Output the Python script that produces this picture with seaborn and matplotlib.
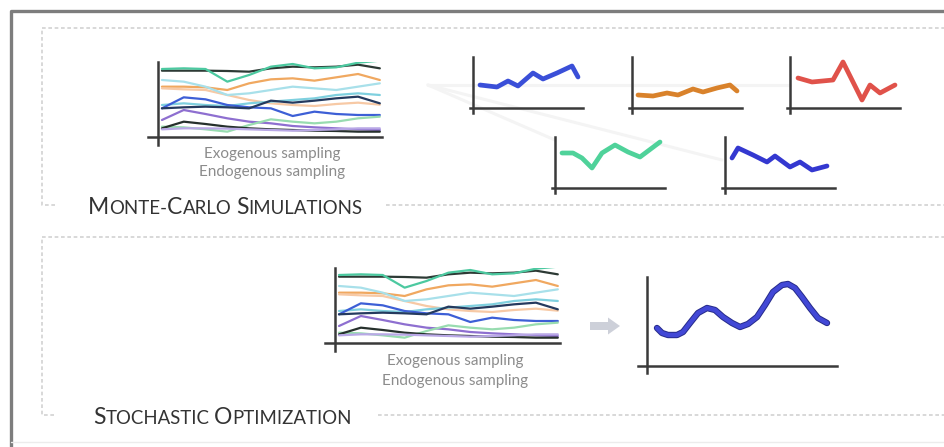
import numpy as np
import pandas as pd
import matplotlib
matplotlib.use("Agg")
import matplotlib.pyplot as plt
import seaborn as sns
from matplotlib import patheffects
from matplotlib.patches import FancyArrow

sns.set_theme(style="white")
plt.rcParams['font.family'] = ['Lato', 'DejaVu Sans']

W, H = 945, 447

# simulações (11 passos) - mesmas curvas nos dois painéis de amostragem
passos = list(range(11))
series_mc = {
    'preta_alta':  [198, 198, 198, 197, 195, 205, 210, 208, 210, 216, 205],
    'verde_agua':  [203, 205, 203, 165, 185, 210, 218, 205, 208, 222, 228],
    'laranja':     [150, 150, 148, 140, 160, 172, 175, 168, 178, 188, 170],
    'pessego':     [145, 142, 140, 125, 110, 100, 95, 92, 98, 102, 96],
    'ciano_claro': [170, 165, 150, 125, 130, 140, 150, 145, 140, 150, 160],
    'ciano_medio': [95, 100, 95, 92, 100, 105, 110, 115, 125, 130, 125],
    'azul':        [85, 118, 112, 95, 88, 85, 62, 75, 68, 65, 65],
    'marinho':     [85, 88, 90, 88, 85, 108, 102, 108, 115, 120, 100],
    'roxo':        [50, 80, 68, 55, 45, 40, 32, 28, 25, 22, 20],
    'verde_claro': [30, 28, 22, 15, 35, 52, 45, 40, 45, 55, 60],
    'preta_baixa': [25, 45, 38, 30, 25, 22, 20, 18, 17, 15, 15],
    'lavanda':     [22, 25, 25, 24, 22, 20, 18, 20, 22, 25, 25],
}
cores_mc = {
    'preta_alta': '#2d3a35', 'verde_agua': '#4cc9a0', 'laranja': '#f0a860',
    'pessego': '#f7c9a5', 'ciano_claro': '#a8e0ea', 'ciano_medio': '#7fd0df',
    'azul': '#3d5fd6', 'marinho': '#253a5e', 'roxo': '#8e6fd0',
    'verde_claro': '#98dcb0', 'preta_baixa': '#26302c', 'lavanda': '#b9a8e6',
}

# trajetórias individuais (x, y)
traj1_x = [7, 24, 35, 45, 60, 70, 84, 99, 105]
traj1_y = [23, 21, 27, 22, 35, 29, 35, 42, 31]
traj2_x = [6, 21, 35, 46, 61, 71, 85, 98, 105]
traj2_y = [13, 12, 15, 13, 19, 16, 20, 23, 17]
traj3_x = [8, 22, 43, 53, 72, 80, 90, 105]
traj3_y = [30, 26, 28, 46, 8, 23, 15, 23]
traj4_x = [7, 18, 27, 37, 47, 60, 73, 85, 105]
traj4_y = [35, 35, 30, 20, 35, 43, 36, 31, 46]
traj5_x = [7, 13, 28, 42, 50, 65, 75, 87, 102]
traj5_y = [30, 40, 33, 26, 32, 21, 26, 18, 22]

# função objetivo (otimização estocástica)
obj_x = [10, 15, 21, 30, 36, 43, 51, 60, 68, 76, 85, 93, 101, 110, 118, 126,
         135, 141, 148, 155, 163, 171, 180]
obj_y = [38, 33, 31, 31, 34, 43, 53, 58, 56, 49, 43, 39, 42, 49, 61, 74,
         81, 82, 78, 69, 58, 48, 43]

textos_amostragem = ['Exogenous sampling', 'Endogenous sampling']
titulos = ['Monte-Carlo Simulations', 'Stochastic Optimization']

COR_EIXO = '#3a3a3a'
COR_TRACO = '#d2d2d2'


def painel(fig, x0, y0, x1, y1):
    ax = fig.add_axes([x0 / W, 1 - y1 / H, (x1 - x0) / W, (y1 - y0) / H])
    ax.patch.set_alpha(0)
    for lado in ['top', 'right']:
        ax.spines[lado].set_visible(False)
    for lado in ['left', 'bottom']:
        ax.spines[lado].set_color(COR_EIXO)
        ax.spines[lado].set_linewidth(1.8)
    return ax


def limpar(ax, xlim, ylim):
    ax.set_xlim(*xlim)
    ax.set_ylim(*ylim)
    ax.spines['left'].set_position(('data', 0))
    ax.spines['bottom'].set_position(('data', 0))
    ax.set_xticks([])
    ax.set_yticks([])
    ax.set_xlabel('')
    ax.set_ylabel('')


def painel_mc(fig, x0, y0, x1, y1):
    ax = painel(fig, x0, y0, x1, y1)
    df = pd.DataFrame([
        {'passo': p, 'valor': v, 'serie': nome}
        for nome, vals in series_mc.items() for p, v in zip(passos, vals)
    ])
    sns.lineplot(data=df, x='passo', y='valor', hue='serie', palette=cores_mc,
                 legend=False, linewidth=1.6, ax=ax)
    ax.set_xlim(-0.64, 10.1)
    ax.set_ylim(-25, 224)
    ax.spines['left'].set_position(('data', -0.18))
    ax.spines['bottom'].set_position(('data', -1))
    ax.set_xticks([]); ax.set_yticks([])
    ax.set_xlabel(''); ax.set_ylabel('')
    return ax


def painel_traj(fig, x0, y0, xs, ys, cor):
    ax = painel(fig, x0, y0, x0 + 113, y0 + 56)
    sns.lineplot(x=xs, y=ys, color=cor, linewidth=3.4, sort=False, ax=ax)
    limpar(ax, (-3, 110), (-5, 51))
    return ax


def small_caps(ax, x, y, texto, grande, pequeno, cor):
    renderer = ax.figure.canvas.get_renderer()
    partes = []
    for palavra_idx, palavra in enumerate(texto.split(' ')):
        if palavra_idx > 0:
            partes.append((' ', pequeno))
        for ch in palavra:
            tam = grande if ch.isupper() else pequeno
            if partes and partes[-1][1] == tam and partes[-1][0] != ' ':
                partes[-1] = (partes[-1][0] + ch.upper(), tam)
            else:
                partes.append((ch.upper(), tam))
    for trecho, tam in partes:
        t = ax.text(x, y, trecho, fontsize=tam, color=cor, va='baseline',
                    ha='left')
        x += t.get_window_extent(renderer).width


fig = plt.figure(figsize=(W / 100, H / 100), dpi=100)
bg = fig.add_axes([0, 0, 1, 1])
bg.set_xlim(0, W)
bg.set_ylim(H, 0)
bg.axis('off')

# moldura externa
bg.plot([11, 11, W + 5], [H + 5, 11, 11], color='#7d7d7d', lw=2.4)
bg.plot([11, W], [442, 442], color='#ececec', lw=1)

# caixas tracejadas
traco = dict(color=COR_TRACO, lw=1.2, linestyle=(0, (2.2, 1.6)))
bg.plot([W, 42, 42, 56], [28, 28, 205, 205], **traco)
bg.plot([386, W], [205, 205], **traco)
bg.plot([W, 42, 42, 56], [237, 237, 415, 415], **traco)
bg.plot([378, W], [415, 415], **traco)

# linhas de ligação muito suaves
for xf, yf in [(790, 85), (555, 140), (722, 160)]:
    bg.plot([428, xf], [85, yf], color='#f4f4f4', lw=2.2, zorder=0)

painel_mc(fig, 148, 62, 382, 145)
painel_mc(fig, 325, 268, 560, 351)

cor_txt = '#8c8c8c'
bg.text(272, 154, textos_amostragem[0], ha='center', va='center', fontsize=11, color=cor_txt)
bg.text(272, 172, textos_amostragem[1], ha='center', va='center', fontsize=11, color=cor_txt)
bg.text(455, 361, textos_amostragem[0], ha='center', va='center', fontsize=11, color=cor_txt)
bg.text(455, 381, textos_amostragem[1], ha='center', va='center', fontsize=11, color=cor_txt)

painel_traj(fig, 470, 57, traj1_x, traj1_y, '#3a4fd8')
painel_traj(fig, 629, 57, traj2_x, traj2_y, '#d9822b')
painel_traj(fig, 787, 57, traj3_x, traj3_y, '#e0524a')
painel_traj(fig, 552, 137, traj4_x, traj4_y, '#4fd29a')
painel_traj(fig, 722, 137, traj5_x, traj5_y, '#3438d0')

# seta e função objetivo
bg.add_patch(FancyArrow(590, 326, 18, 0, width=8, head_width=17, head_length=12,
                        color='#cdd0d9', lw=0))
ax_obj = painel(fig, 638, 277, 837, 373)
sns.lineplot(x=obj_x, y=obj_y, color='#4248d6', linewidth=3.2, sort=False, ax=ax_obj)
ax_obj.lines[0].set_path_effects([patheffects.Stroke(linewidth=4.6, foreground='#262b8a'),
                                  patheffects.Normal()])
limpar(ax_obj, (-9, 190), (-7, 89))

small_caps(bg, 88, 214, titulos[0], 16.5, 13.4, '#333333')
small_caps(bg, 93, 424, titulos[1], 16.5, 13.4, '#333333')

fig.savefig('out.png', dpi=100)
